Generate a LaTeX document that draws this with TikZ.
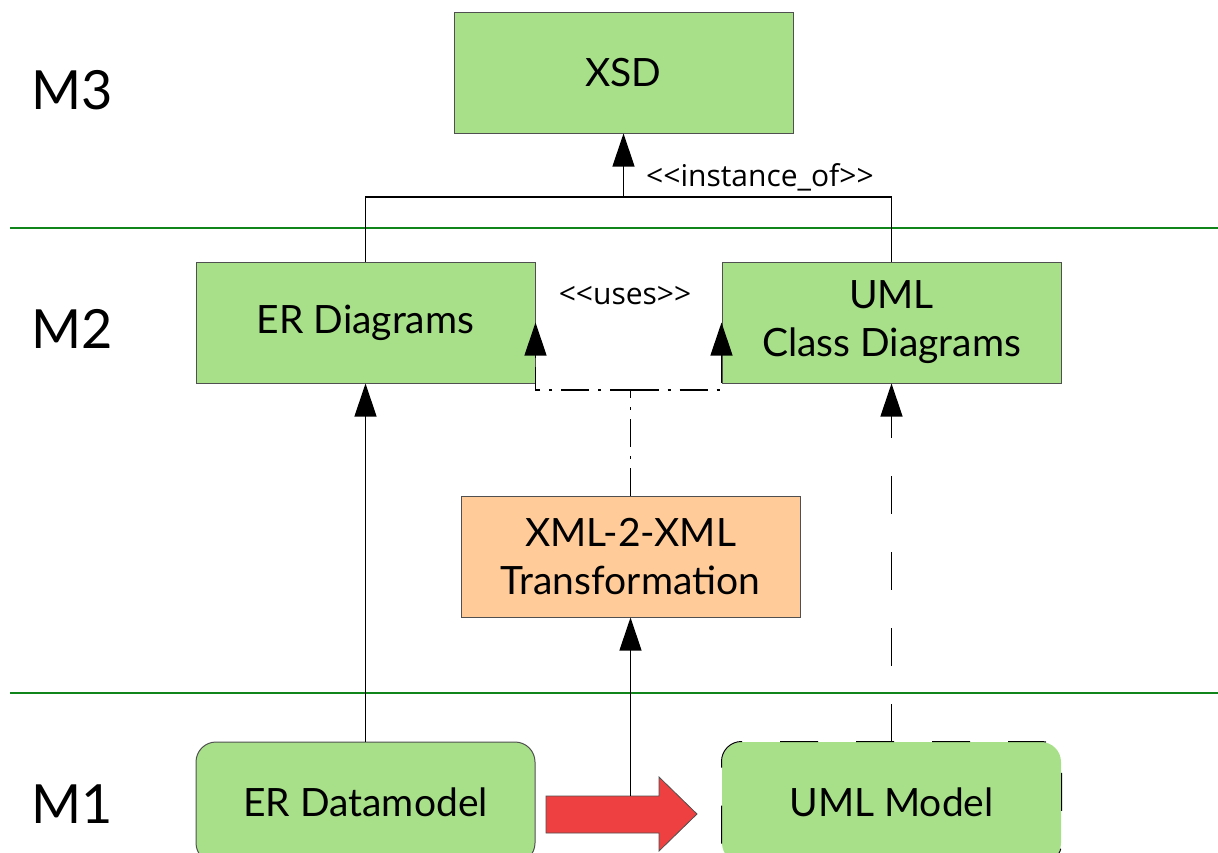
\documentclass[tikz,border=0pt]{standalone}
\usepackage{fontspec}
\setmainfont{Lato}
\newfontfamily\lblfont{Open Sans}
\usetikzlibrary{arrows.meta}
\definecolor{boxgreen}{HTML}{A8E08A}
\definecolor{boxorange}{HTML}{FFCC99}
\definecolor{redarrow}{HTML}{EE4040}
\definecolor{linegreen}{HTML}{10861A}
\definecolor{bordergray}{HTML}{505050}
\tikzset{
  greenbox/.style={draw=bordergray, line width=1pt, fill=boxgreen, minimum width=339pt, minimum height=121pt, inner sep=0pt, align=center, font=\fontsize{39}{48}\selectfont},
  orangebox/.style={greenbox, fill=boxorange},
  roundbox/.style={greenbox, rounded corners=20pt},
  conn/.style={line width=1.2pt, black},
  tipped/.style={-{Triangle[length=33pt,width=22pt]}},
  lbl/.style={font=\lblfont\fontsize{30}{36}\selectfont, inner sep=0pt},
  level/.style={font=\fontsize{54}{60}\selectfont, inner sep=0pt},
  sep/.style={draw=linegreen, line width=2.5pt},
  longdash/.style={dash pattern=on 38pt off 38pt},
  dashdotline/.style={dash pattern=on 28pt off 9pt on 3pt off 9pt},
}
\begin{document}
\begin{tikzpicture}[x=1pt,y=-1pt]
\useasboundingbox (0,0) rectangle (1218,852);
\clip (0,0) rectangle (1218,852);
% level separators
\draw[sep] (10,228) -- (1218,228);
\draw[sep] (10,693) -- (1218,693);
% level labels
\node[level] (m3) at (72,90) {M3};
\node[level] (m2) at (72,329) {M2};
\node[level] (m1) at (72,804) {M1};
% boxes
\node[greenbox] (xsd) at (623.5,72.5) {XSD};
\node[greenbox] (erd) at (365.5,322.5) {ER Diagrams};
\node[greenbox] (umlc) at (891.5,322.5) {UML\\Class Diagrams};
\node[orangebox] (xml) at (630.5,556.5) {XML-2-XML\\Transformation};
\node[roundbox] (erdm) at (365.5,802.5) {ER Datamodel};
\node[roundbox, draw=none] (umlm) at (891.5,802.5) {UML Model};
\draw[draw=black, line width=1pt, longdash, rounded corners=20pt] (umlm.south west) rectangle (umlm.north east);
% red transformation arrow
\draw[fill=redarrow, draw=bordergray, line width=0.8pt]
  (546,796) -- (659,796) -- (659,777) -- (697,814) -- (659,851) -- (659,833) -- (546,833) -- cycle;
\coordinate (redtop) at (630.5,796);
% connectors
\coordinate (k) at (623.5,197);
\draw[conn] (erd.north) |- (umlc.north |- k) -- (umlc.north);
\draw[conn,tipped] (k) -- (xsd.south);
\node[lbl, anchor=base west] (inst) at (646,186) {<{}<instance\_of>{}>};
\draw[conn,tipped] (erdm.north) -- (erd.south);
\draw[conn,tipped,longdash] (umlm.north) -- (umlc.south);
\draw[conn,tipped] (redtop) -- (xml.south);
\coordinate (j) at (630.5,390);
\draw[conn,dashdotline,tipped] (xml.north) -- (j) -| (erd.east);
\draw[conn,dashdotline,tipped] (j) -| (umlc.west);
\node[lbl] (uses) at (625,296) {<{}<uses>{}>};
\end{tikzpicture}
\end{document}
